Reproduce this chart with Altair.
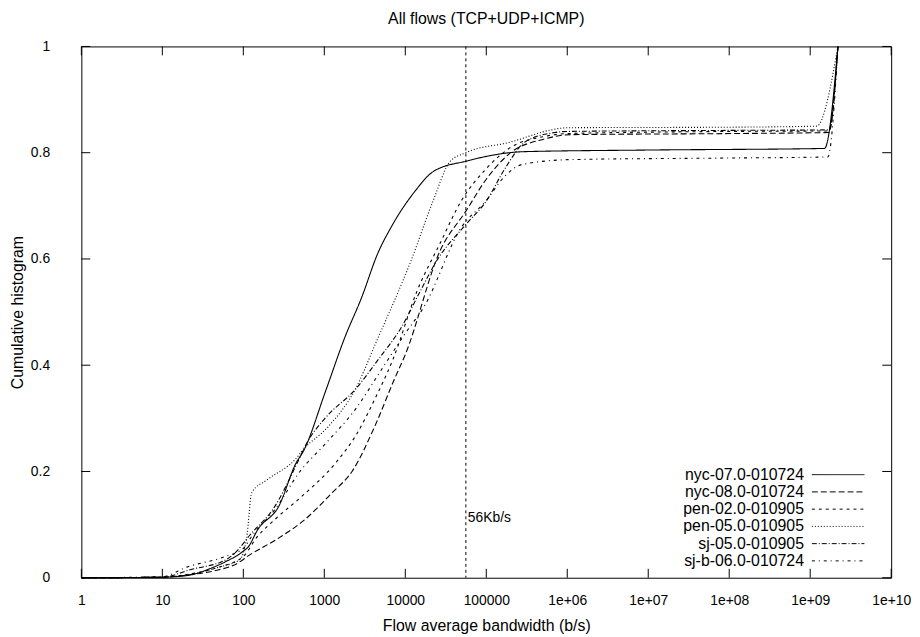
import altair as alt
import pandas as pd

# ---------------- data ----------------
series_names = ["nyc-07.0-010724", "nyc-08.0-010724", "pen-02.0-010905",
                "pen-05.0-010905", "sj-05.0-010905", "sj-b-06.0-010724"]

nyc07_x = [1, 5, 10, 20, 40, 60, 100, 115, 150, 275, 445, 560, 1030, 1800, 2900,
           4560, 6700, 12800, 22400, 56000, 3e5, 1e7, 1.5e9, 2.2e9]
nyc07_y = [0, 0.0005, 0.001, 0.004, 0.018, 0.03, 0.05, 0.058, 0.09, 0.135, 0.215,
           0.24, 0.35, 0.453, 0.528, 0.61, 0.66, 0.725, 0.765, 0.784, 0.802,
           0.805, 0.808, 1.0]

nyc08_x = [1, 10, 20, 50, 80, 120, 275, 540, 1250, 2200, 4200, 7300, 10000, 27000,
           56000, 1e5, 2e5, 5e5, 1.1e6, 1e8, 1.7e9, 2.2e9]
nyc08_y = [0, 0.001, 0.005, 0.015, 0.025, 0.043, 0.075, 0.106, 0.16, 0.2, 0.285,
           0.373, 0.42, 0.616, 0.69, 0.75, 0.8, 0.825, 0.834, 0.836, 0.838, 1.0]

pen02_x = [1, 10, 20, 50, 100, 145, 255, 500, 1360, 2500, 4200, 7000, 14000, 27000,
           49000, 1e5, 2e5, 5e5, 1e6, 1e8, 1.7e9, 2.2e9]
pen02_y = [0, 0.001, 0.006, 0.02, 0.04, 0.075, 0.112, 0.15, 0.215, 0.27, 0.336,
           0.41, 0.54, 0.63, 0.709, 0.77, 0.81, 0.83, 0.836, 0.84, 0.841, 1.0]

pen05_x = [1, 10, 20, 50, 90, 110, 127, 200, 445, 540, 1130, 2400, 4500, 12000,
           22000, 36000, 56000, 2e5, 6.4e5, 1e6, 1e8, 1.2e9, 2.2e9]
pen05_y = [0, 0.001, 0.005, 0.02, 0.034, 0.075, 0.16, 0.185, 0.224, 0.24, 0.285,
           0.354, 0.448, 0.6, 0.709, 0.784, 0.80, 0.82, 0.843, 0.847, 0.848, 0.85, 1.0]

sj05_x = [1, 10, 22, 63, 83, 120, 235, 490, 590, 1020, 2400, 4600, 9000, 15500,
          24500, 56000, 1e5, 1.7e5, 3e5, 7e5, 1e6, 1e8, 1.7e9, 2.2e9]
sj05_y = [0, 0.001, 0.015, 0.035, 0.05, 0.08, 0.13, 0.224, 0.25, 0.3, 0.354, 0.41,
          0.472, 0.541, 0.597, 0.665, 0.709, 0.77, 0.82, 0.838, 0.84, 0.842, 0.843, 1.0]

sjb06_x = [1, 10, 20, 60, 100, 130, 250, 500, 1000, 2500, 5000, 10000, 17000,
           49000, 1e5, 1.7e5, 2.8e5, 1.1e6, 1e8, 1.65e9, 2.2e9]
sjb06_y = [0, 0.002, 0.02, 0.04, 0.055, 0.08, 0.13, 0.2, 0.25, 0.32, 0.39, 0.46,
           0.51, 0.659, 0.71, 0.756, 0.778, 0.787, 0.79, 0.792, 1.0]

series_x = [nyc07_x, nyc08_x, pen02_x, pen05_x, sj05_x, sjb06_x]
series_y = [nyc07_y, nyc08_y, pen02_y, pen05_y, sj05_y, sjb06_y]

ref_bw = [56000]
ref_label = ["56Kb/s"]

x_ticks = [1, 10, 100, 1000, 1e4, 1e5, 1e6, 1e7, 1e8, 1e9, 1e10]
x_tick_labels = ["1", "10", "100", "1000", "10000", "100000", "1e+06", "1e+07",
                 "1e+08", "1e+09", "1e+10"]
y_ticks = [0, 0.2, 0.4, 0.6, 0.8, 1]
y_tick_labels = ["0", "0.2", "0.4", "0.6", "0.8", "1"]

# ---------------- styles ----------------
dash_patterns = [[1, 0], [6, 3], [3, 4], [1, 2], [5, 2, 1, 2], [3, 4, 1, 4]]
FONT = "Liberation Sans"
FS = 14      # tick labels, annotation
FS2 = 16     # titles, legend
W, H = 817, 536
TICK = 9


def label_expr(values, labels):
    expr = "''"
    for v, l in reversed(list(zip(values, labels))):
        tol = abs(v) * 1e-6 + 1e-9
        expr = f"(abs(datum.value - {v}) < {tol}) ? '{l}' : {expr}"
    return expr


rows = []
for name, xs, ys in zip(series_names, series_x, series_y):
    for i, (a, b) in enumerate(zip(xs, ys)):
        rows.append({"series": name, "bw": a, "frac": b, "order": i})
df = pd.DataFrame(rows)

xscale = alt.Scale(type="log", domain=[1, 1e10], nice=False)
yscale = alt.Scale(domain=[0, 1], nice=False, zero=False)
dash_scale = alt.Scale(domain=series_names, range=dash_patterns)

xaxis = alt.Axis(values=x_ticks, labelExpr=label_expr(x_ticks, x_tick_labels),
                 title="Flow average bandwidth (b/s)", labelPadding=16,
                 titlePadding=10, labelFlush=False, titleFontSize=FS2)
yaxis = alt.Axis(values=y_ticks, labelExpr=label_expr(y_ticks, y_tick_labels),
                 title="Cumulative histogram", labelPadding=32,
                 titlePadding=5, labelFlush=False, titleFontSize=FS2)

X = alt.X("bw:Q", scale=xscale, axis=xaxis)
Y = alt.Y("frac:Q", scale=yscale, axis=yaxis)

lines = alt.Chart(df).mark_line(color="black", strokeWidth=1.1, interpolate="monotone").encode(
    x=X, y=Y,
    strokeDash=alt.StrokeDash("series:N", scale=dash_scale, legend=None),
    detail="series:N",
    order="order:Q",
)

ref_df = pd.DataFrame({"bw": ref_bw, "label": ref_label})
vline = alt.Chart(ref_df).mark_rule(color="black", strokeWidth=1, strokeDash=[3, 3]).encode(x=X)
vtext = alt.Chart(ref_df).mark_text(align="left", baseline="middle", dx=2, font=FONT,
                                    fontSize=FS, color="black").encode(
    x=X, y=alt.value(476), text="label:N")

xt = pd.DataFrame({"bw": x_ticks})
yt = pd.DataFrame({"frac": y_ticks})
tick_b = alt.Chart(xt).mark_rule(color="black").encode(
    x=X, y=alt.value(H), y2=alt.value(H - TICK))
tick_t = alt.Chart(xt).mark_rule(color="black").encode(
    x=X, y=alt.value(0), y2=alt.value(TICK))
tick_l = alt.Chart(yt).mark_rule(color="black").encode(
    y=Y, x=alt.value(0), x2=alt.value(TICK))
tick_r = alt.Chart(yt).mark_rule(color="black").encode(
    y=Y, x=alt.value(W - TICK), x2=alt.value(W))

leg_df = pd.DataFrame({"series": series_names, "row": list(range(len(series_names)))})
leg_base = alt.Chart(leg_df).transform_calculate(ly="432 + datum.row * 17.4")
leg_text = leg_base.mark_text(align="right", baseline="middle", font=FONT, fontSize=FS2,
                              color="black").encode(
    x=alt.value(729), y=alt.Y("ly:Q", scale=None), text="series:N")
leg_rule = leg_base.mark_rule(color="black", strokeWidth=1).encode(
    x=alt.value(737), x2=alt.value(790), y=alt.Y("ly:Q", scale=None),
    strokeDash=alt.StrokeDash("series:N", scale=dash_scale, legend=None))

chart = alt.layer(lines, vline, vtext, tick_b, tick_t, tick_l, tick_r, leg_text, leg_rule).properties(
    width=W, height=H,
    autosize=alt.AutoSizeParams(type="none"),
    padding={"left": 74, "top": 36, "right": 21, "bottom": 56},
    title=alt.TitleParams("All flows (TCP+UDP+ICMP)", font=FONT, fontSize=FS2,
                          fontWeight="normal", anchor="middle", offset=13, color="black"),
).configure_view(stroke="black", strokeWidth=1).configure_axis(
    grid=False, ticks=False, tickSize=0, domain=False, labelFont=FONT, labelFontSize=FS,
    titleFont=FONT, titleFontWeight="normal", labelColor="black",
    titleColor="black")

chart.save("out.html", embed_options={"renderer": "svg", "actions": False})
